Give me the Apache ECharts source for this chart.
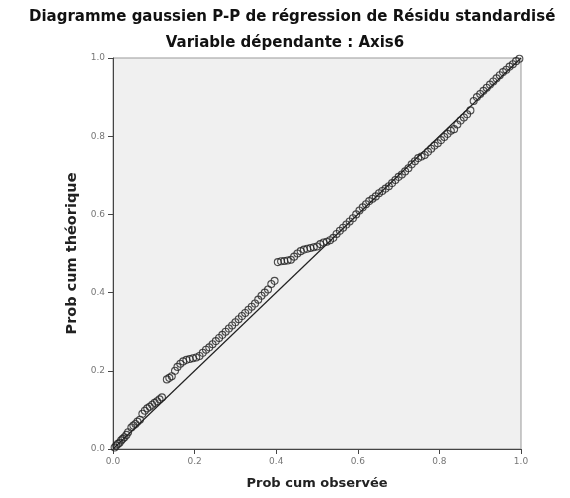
<!DOCTYPE html>
<html><head><meta charset="utf-8">
<script src="https://cdn.jsdelivr.net/npm/echarts@6/dist/echarts.min.js"></script>
<style>html,body{margin:0;padding:0;background:#fff}#c{width:570px;height:498px}</style>
</head><body><div id="c"></div>
<script>
const titleText = "Diagramme gaussien P-P de régression de Résidu standardisé";
const subtitleText = "Variable dépendante : Axis6";
const xAxisName = "Prob cum observée";
const yAxisName = "Prob cum théorique";
const tickLabels = ["0.0","0.2","0.4","0.6","0.8","1.0"];
const observed = [0.004,0.008,0.012,0.016,0.020,0.024,0.028,0.033,0.037,0.045,0.050,0.055,0.060,0.066,0.072,0.078,0.084,0.090,0.096,0.102,0.108,0.114,0.120,0.132,0.138,0.144,0.152,0.158,0.165,0.172,0.180,0.188,0.196,0.204,0.212,0.220,0.228,0.236,0.244,0.252,0.260,0.268,0.276,0.284,0.292,0.300,0.308,0.316,0.324,0.332,0.340,0.348,0.356,0.364,0.372,0.380,0.388,0.396,0.404,0.412,0.420,0.428,0.436,0.444,0.452,0.460,0.468,0.476,0.484,0.492,0.500,0.508,0.516,0.524,0.532,0.540,0.548,0.556,0.564,0.572,0.580,0.588,0.596,0.604,0.612,0.620,0.628,0.636,0.644,0.652,0.660,0.668,0.676,0.684,0.692,0.700,0.708,0.716,0.724,0.732,0.740,0.748,0.756,0.764,0.772,0.780,0.788,0.796,0.804,0.812,0.820,0.828,0.836,0.844,0.852,0.860,0.868,0.876,0.884,0.892,0.900,0.908,0.916,0.924,0.932,0.940,0.948,0.956,0.964,0.972,0.980,0.988,0.996];
const expected = [0.004,0.009,0.013,0.016,0.022,0.026,0.030,0.036,0.043,0.055,0.060,0.064,0.070,0.075,0.090,0.098,0.104,0.108,0.113,0.118,0.122,0.127,0.132,0.178,0.182,0.186,0.200,0.210,0.218,0.224,0.228,0.230,0.232,0.234,0.238,0.246,0.254,0.260,0.268,0.276,0.284,0.292,0.300,0.308,0.316,0.324,0.332,0.340,0.348,0.356,0.364,0.372,0.382,0.392,0.400,0.408,0.422,0.430,0.478,0.480,0.481,0.482,0.484,0.492,0.500,0.506,0.510,0.512,0.514,0.516,0.518,0.524,0.528,0.530,0.534,0.540,0.550,0.558,0.566,0.574,0.582,0.590,0.600,0.610,0.618,0.626,0.634,0.640,0.646,0.654,0.660,0.666,0.672,0.680,0.688,0.696,0.702,0.710,0.718,0.728,0.736,0.744,0.748,0.752,0.760,0.768,0.776,0.782,0.790,0.798,0.806,0.814,0.818,0.830,0.840,0.848,0.856,0.866,0.890,0.900,0.908,0.916,0.924,0.932,0.940,0.948,0.956,0.964,0.970,0.978,0.984,0.992,0.998];
const refLineX = [0, 1];
const refLineY = [0, 1];

const chart = echarts.init(document.getElementById('c'), null, {renderer:'canvas'});
const font = "'DejaVu Sans', sans-serif";
const axisCommon = {
  type:'value', min:0, max:1, interval:0.2,
  axisLine:{show:true, onZero:false, lineStyle:{color:'#444', width:1}},
  axisTick:{show:true, length:5, lineStyle:{color:'#444'}},
  splitLine:{show:false},
  axisLabel:{color:'#777', fontSize:9, fontFamily:font, formatter:(v)=>tickLabels[Math.round(v/0.2)]},
  nameLocation:'middle',
  nameTextStyle:{color:'#222', fontWeight:'bold', fontFamily:font}
};
chart.setOption({
  animation:false,
  backgroundColor:'#fff',
  title:[
    {text:titleText, left:24, top:5, textStyle:{fontSize:15, fontWeight:'bold', color:'#111', fontFamily:font}},
    {text:subtitleText, left:'center', top:31, textStyle:{fontSize:15, fontWeight:'bold', color:'#111', fontFamily:font}}
  ],
  grid:{left:113, right:49, top:58, bottom:49, show:true, backgroundColor:'#f0f0f0', borderColor:'#999', borderWidth:1},
  xAxis:Object.assign({}, axisCommon, {name:xAxisName, nameGap:28, nameTextStyle:Object.assign({}, axisCommon.nameTextStyle, {fontSize:13})}),
  yAxis:Object.assign({}, axisCommon, {name:yAxisName, nameGap:33, nameTextStyle:Object.assign({}, axisCommon.nameTextStyle, {fontSize:14.5})}),
  series:[
    {type:'line', data:refLineX.map((x,i)=>[x, refLineY[i]]), symbol:'none', lineStyle:{color:'#222', width:1.2}, z:2},
    {type:'scatter', data:observed.map((x,i)=>[x, expected[i]]), symbol:'circle', symbolSize:7,
     itemStyle:{color:'rgba(255,255,255,0)', borderColor:'#222', borderWidth:1.1}, z:3}
  ]
});
</script></body></html>
